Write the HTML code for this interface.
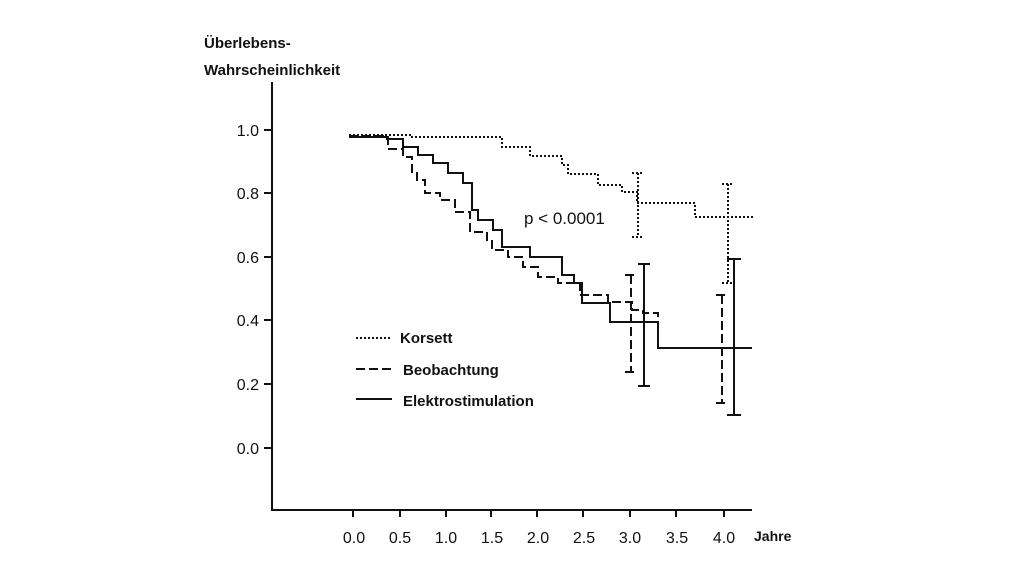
<!DOCTYPE html>
<html><head><meta charset="utf-8"><style>
html,body{margin:0;padding:0;background:#fff;}
svg{display:block;font-family:"Liberation Sans",sans-serif;}
</style></head><body>
<svg width="1024" height="576" viewBox="0 0 1024 576">
<rect width="1024" height="576" fill="#fff"/>
<g font-weight="bold" font-size="15" fill="#111">
<text x="204" y="48">Überlebens-</text>
<text x="204" y="75">Wahrscheinlichkeit</text>
</g>
<g stroke="#111" stroke-width="2" fill="none">
<path d="M272 82 V510 H752"/>
<path d="M264 130H272M264 193H272M264 257H272M264 320H272M264 384H272M264 448H272"/>
<path d="M353 510v7M400 510v7M446 510v7M491 510v7M537 510v7M583 510v7M630 510v7M676 510v7M724 510v7"/>
</g>
<g font-size="16" fill="#111" text-anchor="end">
<text x="259" y="136">1.0</text><text x="259" y="199">0.8</text><text x="259" y="263">0.6</text>
<text x="259" y="326">0.4</text><text x="259" y="390">0.2</text><text x="259" y="454">0.0</text>
</g>
<g font-size="16" fill="#111" text-anchor="middle">
<text x="354" y="543">0.0</text><text x="400" y="543">0.5</text><text x="446" y="543">1.0</text>
<text x="492" y="543">1.5</text><text x="538" y="543">2.0</text><text x="584" y="543">2.5</text>
<text x="630" y="543">3.0</text><text x="677" y="543">3.5</text><text x="724" y="543">4.0</text>
</g>
<text x="754" y="541" font-size="14" font-weight="bold" fill="#111">Jahre</text>
<text x="524" y="224" font-size="17" fill="#111">p &lt; 0.0001</text>
<!-- Korsett -->
<g stroke="#111" stroke-width="2" fill="none" stroke-dasharray="2 2">
<path d="M349 135 H410 V137 H502 V147 H530 V156 H562 V165 H568 V174 H598 V185 H622 V192 H637 V203 H695 V217 H753"/>
<path d="M638 173V237M632 173H644M632 237H644"/>
<path d="M728 184V283M722 184H734M722 283H734"/>
<path d="M356 338H392"/>
</g>
<!-- Beobachtung -->
<g stroke="#111" stroke-width="2" fill="none" stroke-dasharray="9 4">
<path d="M349 136 H388 V149 H403 V157 H412 V172 H417 V180 H425 V193 H440 V200 H455 V212 H470 V232 H487 V240 H492 V250 H508 V257 H523 V267 H538 V277 H558 V283 H580 V295 H608 V302 H632 V310 H643 V313 H658 V348 H752"/>
<path d="M631 275V372M625 275H637M625 372H637"/>
<path d="M722 295V403M716 295H728M716 403H728"/>
<path d="M356 369H392"/>
</g>
<!-- Elektrostimulation -->
<g stroke="#111" stroke-width="2" fill="none">
<path d="M349 137 H387 V139 H403 V147 H418 V155 H433 V163 H448 V173 H463 V183 H472 V210 H478 V220 H493 V230 H502 V247 H530 V257 H562 V275 H574 V283 H582 V303 H610 V322 H658 V348 H752"/>
<path d="M644 264V386M638 264H650M638 386H650"/>
<path d="M734 259V415M727 259H741M727 415H741"/>
<path d="M356 399H392"/>
</g>
<g font-size="15" font-weight="bold" fill="#111">
<text x="400" y="343">Korsett</text>
<text x="403" y="375">Beobachtung</text>
<text x="403" y="406">Elektrostimulation</text>
</g>
</svg>
</body></html>
